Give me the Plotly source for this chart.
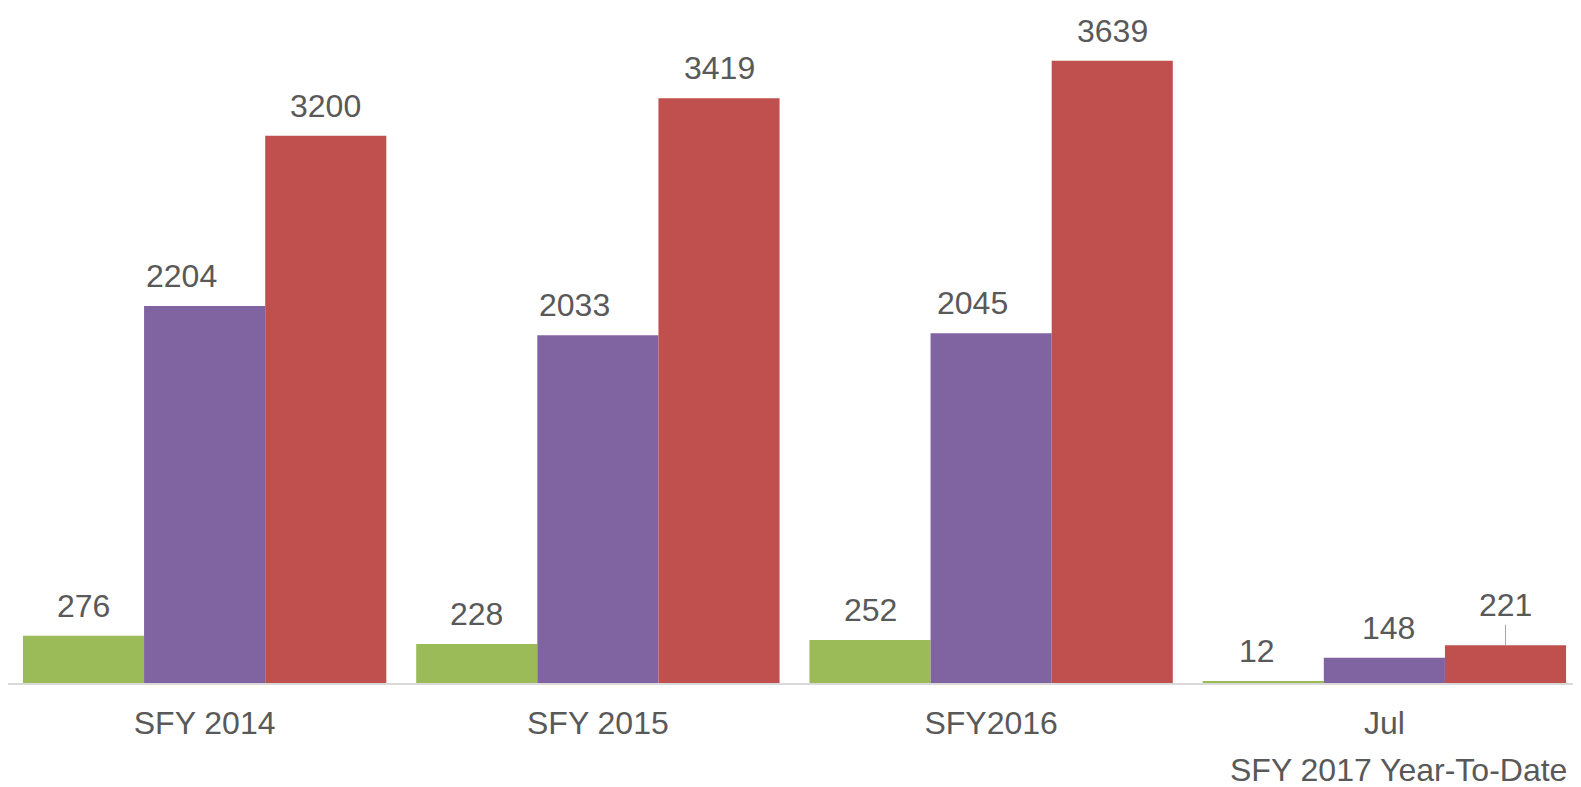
import plotly.graph_objects as go

categories = ["SFY 2014", "SFY 2015", "SFY2016", "Jul"]
series_green = [276, 228, 252, 12]
series_purple = [2204, 2033, 2045, 148]
series_red = [3200, 3419, 3639, 221]
group_caption = "SFY 2017 Year-To-Date"

series = [
    ("Series 1", series_green, "#9BBB59"),
    ("Series 2", series_purple, "#8064A2"),
    ("Series 3", series_red, "#C0504D"),
]

FONT = "Arial, Liberation Sans, sans-serif"
TXT = "#595959"
FS = 32
# page has an 8px body margin, so the figure is 8px smaller than the window
W = 1573
H = 779
ML, MR, MT, MB = 0, 0, 0, 104
bar_w = 0.308  # data units per bar
px_per_unit = 0.171
ymax = (H - MT - MB) / px_per_unit

# horizontal nudge of labels (px), per series/category
label_dx = [[0, 0, 0, -6], [-23, -23, -19, 4], [0, 0, 0, 0]]

fig = go.Figure()
annotations = []
idx = list(range(len(categories)))
for j, (name, vals, col) in enumerate(series):
    xs = [i + (j - 1) * bar_w for i in idx]
    fig.add_trace(go.Bar(
        x=xs, y=vals, width=bar_w, name=name,
        marker=dict(color=col, line=dict(width=0)),
        hoverinfo="y",
    ))
    for i, (x, v) in enumerate(zip(xs, vals)):
        if j == 2 and i == 3:
            annotations.append(dict(
                x=x, y=v, xref="x", yref="y", text=str(v),
                showarrow=True, arrowhead=0, arrowwidth=1, arrowcolor="#A6A6A6",
                ax=0, ay=-40, standoff=0,
                font=dict(family=FONT, size=FS, color=TXT),
            ))
        else:
            annotations.append(dict(
                x=x, y=v, xref="x", yref="y", text=str(v), showarrow=False,
                yanchor="bottom", yshift=10, xshift=label_dx[j][i],
                font=dict(family=FONT, size=FS, color=TXT),
            ))

annotations.append(dict(
    x=3, y=0, xref="x", yref="paper", text=group_caption, showarrow=False,
    yanchor="middle", yshift=-87, xshift=14,
    font=dict(family=FONT, size=FS, color=TXT),
))

fig.update_layout(
    width=W, height=H,
    margin=dict(l=ML, r=MR, t=MT, b=MB),
    paper_bgcolor="white", plot_bgcolor="white",
    showlegend=False,
    barmode="overlay",
    annotations=annotations,
    xaxis=dict(
        range=[-0.5, 3.5], tickvals=idx, ticktext=categories,
        showgrid=False, zeroline=False, showline=True,
        linecolor="#D9D9D9", linewidth=1.5, ticks="",
        tickfont=dict(family=FONT, size=FS, color=TXT),
        ticklabelstandoff=11,
    ),
    yaxis=dict(
        range=[0, ymax], visible=False, showgrid=False, zeroline=False,
    ),
)

fig.write_html("out.html")
